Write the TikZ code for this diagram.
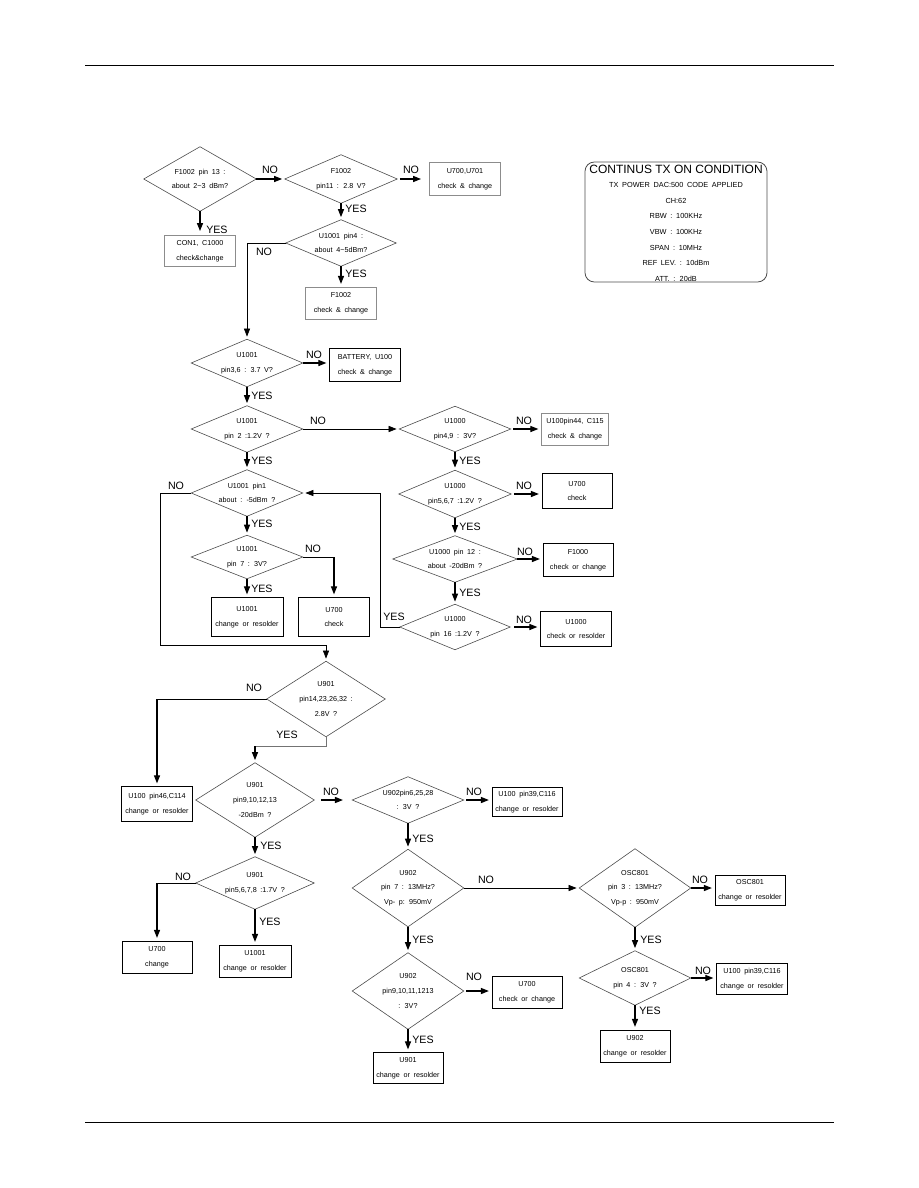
\documentclass[tikz,border=0pt]{standalone}
\usepackage{fontspec}
\setmainfont{Liberation Sans}
\newfontfamily\wsfont[WordSpace=1.8]{Liberation Sans}
\usetikzlibrary{arrows.meta}
\begin{document}
\begin{tikzpicture}[x=0.75pt,y=-0.75pt,
  dt/.style 2 args={inner sep=0pt, minimum width=#1*0.75pt, minimum height=#2*0.75pt, align=center, font=\wsfont\fontsize{5.4}{10.9}\selectfont},
  dline/.style={draw=black!70, line width=0.45pt},
  bx/.style 2 args={draw=black, line width=0.75pt, inner sep=0pt, minimum width=#1*0.75pt, minimum height=#2*0.75pt, align=center, font=\wsfont\fontsize{5.4}{11.2}\selectfont},
  gbx/.style 2 args={bx={#1}{#2}, draw=black!45},
  lbl/.style={inner sep=0pt, font=\fontsize{8}{8}\selectfont},
  arr/.style={line width=0.8pt, -{Triangle[length=6pt,width=4.6pt]}, shorten >=2pt},
  rt/.style={line width=0.5pt},
]
\useasboundingbox (0,0) rectangle (918,1188);
\draw[line width=0.6pt] (85,65) -- (834,65);
\draw[line width=0.6pt] (85,1122) -- (834,1122);

% decisions
\node[dt={112}{64}] (d1) at (200,179) {F1002 pin 13 :\\about 2\textasciitilde3 dBm?};
\node[dt={112}{48}] (d2) at (341,179) {F1002\\pin11 : 2.8 V?};
\node[dt={110}{46}] (d3) at (341,243) {U1001 pin4 :\\about 4\textasciitilde5dBm?};
\node[dt={111}{47}] (d4) at (247,363) {U1001\\pin3,6 : 3.7 V?};
\node[dt={111}{46}] (d5) at (247,429) {U1001\\pin 2 :1.2V ?};
\node[dt={111}{45}] (d6) at (455,429) {U1000\\pin4,9 : 3V?};
\node[dt={112}{47}] (d7) at (455,494) {U1000\\pin5,6,7 :1.2V ?};
\node[dt={124}{46}] (d8) at (455,559) {U1000 pin 12 :\\about -20dBm ?};
\node[dt={110}{45}] (d9) at (455,627) {U1000\\pin 16 :1.2V ?};
\node[dt={111}{46}] (d10) at (247,493) {U1001 pin1\\about : -5dBm ?};
\node[dt={111}{43}] (d10b) at (247,557) {U1001\\pin 7 : 3V?};
\node[dt={118}{75}] (d11) at (326,699) {U901\\pin14,23,26,32 :\\2.8V ?};
\node[dt={118}{74}] (d12) at (255,800) {U901\\pin9,10,12,13\\-20dBm ?};
\node[dt={111}{46}] (d13) at (408,800) {U902pin6,25,28\\: 3V ?};
\node[dt={111}{77}] (d14) at (408,888) {U902\\pin 7 : 13MHz?\\Vp- p: 950mV};
\node[dt={111}{78}] (d15) at (635,888) {OSC801\\pin 3 : 13MHz?\\Vp-p : 950mV};
\node[dt={111}{54}] (d16) at (635,978) {OSC801\\pin 4 : 3V ?};
\node[dt={111}{76}] (d17) at (408,991) {U902\\pin9,10,11,1213\\: 3V?};
\node[dt={118}{52}] (d18) at (255,883) {U901\\pin5,6,7,8 :1.7V ?};
\foreach \n in {d1,d2,d3,d4,d5,d6,d7,d8,d9,d10,d10b,d11,d12,d13,d14,d15,d16,d17,d18}
  \draw[dline] (\n.north) -- (\n.east) -- (\n.south) -- (\n.west) -- cycle;

% boxes
\node[gbx={71}{31}] (b1) at (200,251) {CON1, C1000\\check\&change};
\node[gbx={71}{33}] (b2) at (465,179) {U700,U701\\check \& change};
\node[gbx={71}{32}] (b3) at (341,303) {F1002\\check \& change};
\node[bx={71}{33}] (b4) at (365,365) {BATTERY, U100\\check \& change};
\node[gbx={67}{32}] (b6) at (575,429) {U100pin44, C115\\check \& change};
\node[bx={70}{35}] (b7) at (577,491) {U700\\check};
\node[bx={70}{33}] (b8) at (578,560) {F1000\\check or change};
\node[bx={71}{35}] (b9) at (576,629) {U1000\\check or resolder};
\node[bx={72}{39}] (b10a) at (247,617) {U1001\\change or resolder};
\node[bx={71}{39}] (b10b) at (334,617) {U700\\check};
\node[bx={71}{35}] (b11) at (157,804) {U100 pin46,C114\\change or resolder};
\node[bx={70}{29}] (b13) at (527,802) {U100 pin39,C116\\change or resolder};
\node[bx={70}{30}] (b15) at (750,890) {OSC801\\change or resolder};
\node[bx={71}{31}] (b16) at (752,979) {U100 pin39,C116\\change or resolder};
\node[bx={70}{32}] (b16y) at (635,1046) {U902\\change or resolder};
\node[bx={70}{32}] (b17) at (527,992) {U700\\check or change};
\node[bx={70}{31}] (b17y) at (408,1068) {U901\\change or resolder};
\node[bx={70}{32}] (b18a) at (157,957) {U700\\change};
\node[bx={72}{32}] (b18b) at (255,961) {U1001\\change or resolder};

% condition box
\node[draw=black!70, line width=0.6pt, rounded corners=7pt, minimum width=182*0.75pt, minimum height=120*0.75pt, inner sep=0pt] (cont) at (676,222) {};
\node[inner sep=0pt, font=\fontsize{9}{9}\selectfont] (conttitle) at (676,169) {CONTINUS TX ON CONDITION};
\node[inner sep=0pt, align=center, font=\wsfont\fontsize{5.5}{11.75}\selectfont] (contbody) at (676,232) {TX POWER DAC:500 CODE APPLIED\\CH:62\\RBW : 100KHz\\VBW : 100KHz\\SPAN : 10MHz\\REF LEV. : 10dBm\\ATT. : 20dB};

% connectors
\draw[arr] (d1.east) -- (d2.west);
\draw[arr, shorten <=2pt, shorten >=6pt] (d2.east) -- (d2.east -| b2.west);
\draw[arr] (d2.south) -- (d3.north);
\draw[arr, shorten >=3pt] (d1.south) -- (b1.north);
\draw[arr, line width=0.5pt] (d3.west) -| (d4.north);
\draw[arr] (d3.south) -- (b3.north);
\draw[arr] (d4.east) -- (d4.east -| b4.west);
\draw[arr] (d4.south) -- (d5.north);
\draw[arr, line width=0.6pt] (d5.east) -- (d6.west);
\draw[arr, shorten <=2pt] (d6.east) -- (d6.east -| b6.west);
\draw[arr] (d6.south) -- (d7.north);
\draw[arr, shorten <=2pt] (d7.east) -- (d7.east -| b7.west);
\draw[arr] (d7.south) -- (d8.north);
\draw[arr] (d8.east) -- (d8.east -| b8.west);
\draw[arr] (d8.south) -- (d9.north);
\draw[arr, shorten <=3pt] (d9.east) -- (d9.east -| b9.west);
\coordinate (c9) at (380,627);
\draw[arr, line width=0.5pt] (d9.west) -- (c9) |- (d10.east);
\draw[arr] (d5.south) -- (d10.north);
\coordinate (c10) at (160,645);
\draw[arr, line width=0.5pt] (d10.west) -| (c10) -| (d11.north);
\draw[arr] (d10.south) -- (d10b.north);
\draw[rt] (d10b.east) -- (d10b.east -| b10b.north);
\draw[arr] (d10b.east -| b10b.north) -- (b10b.north);
\draw[arr] (d10b.south) -- (b10a.north);
\draw[rt] (d11.west) -- (d11.west -| b11.north);
\draw[arr] (d11.west -| b11.north) -- (b11.north);
\coordinate (c11) at (326,746);
\draw[rt, black!55] (d11.south) -- (c11) -- (d12.north |- c11);
\draw[arr] (d12.north |- c11) -- (d12.north);
\draw[arr, shorten <=5pt, shorten >=7pt] (d12.east) -- (d13.west);
\draw[arr, shorten <=2pt] (d13.east) -- (d13.east -| b13.west);
\draw[arr] (d13.south) -- (d14.north);
\draw[arr, line width=0.6pt] (d14.east) -- (d15.west);
\draw[arr] (d15.east) -- (d15.east -| b15.west);
\draw[arr] (d15.south) -- (d16.north);
\draw[arr] (d16.east) -- (d16.east -| b16.west);
\draw[arr] (d16.south) -- (b16y.north);
\draw[arr] (d14.south) -- (d17.north);
\draw[arr, shorten <=2pt] (d17.east) -- (d17.east -| b17.west);
\draw[arr] (d17.south) -- (b17y.north);
\draw[arr] (d12.south) -- (d18.north);
\draw[rt] (d18.west) -- (d18.west -| b18a.north);
\draw[arr] (d18.west -| b18a.north) -- (b18a.north);
\draw[arr] (d18.south) -- (b18b.north);

% labels
\node[lbl] (n1) at (270,170) {NO};
\node[lbl] (n2) at (411,170) {NO};
\node[lbl] (n3) at (264,252) {NO};
\node[lbl] (n4) at (314,355) {NO};
\node[lbl] (n5) at (318,421) {NO};
\node[lbl] (n6) at (524,421) {NO};
\node[lbl] (n7) at (524,486) {NO};
\node[lbl] (n8) at (525,552) {NO};
\node[lbl] (n9) at (524,620) {NO};
\node[lbl] (n10) at (176,486) {NO};
\node[lbl] (n10b) at (313,549) {NO};
\node[lbl] (n11) at (254,688) {NO};
\node[lbl] (n12) at (331,792) {NO};
\node[lbl] (n13) at (474,792) {NO};
\node[lbl] (n14) at (486,880) {NO};
\node[lbl] (n15) at (700,880) {NO};
\node[lbl] (n16) at (703,971) {NO};
\node[lbl] (n17) at (474,977) {NO};
\node[lbl] (n18) at (183,877) {NO};

\node[lbl, anchor=west] (y1) at (206,230) {YES};
\node[lbl, anchor=west] (y2) at (345,209) {YES};
\node[lbl, anchor=west] (y3) at (345,274) {YES};
\node[lbl, anchor=west] (y4) at (251,396) {YES};
\node[lbl, anchor=west] (y5) at (251,461) {YES};
\node[lbl, anchor=west] (y6) at (459,461) {YES};
\node[lbl, anchor=west] (y7) at (459,527) {YES};
\node[lbl, anchor=west] (y8) at (459,593) {YES};
\node[lbl] (y9) at (394,617) {YES};
\node[lbl, anchor=west] (y10) at (251,524) {YES};
\node[lbl, anchor=west] (y10b) at (251,589) {YES};
\node[lbl] (y11) at (287,735) {YES};
\node[lbl, anchor=west] (y12) at (260,846) {YES};
\node[lbl, anchor=west] (y13) at (412,839) {YES};
\node[lbl, anchor=west] (y14) at (412,940) {YES};
\node[lbl, anchor=west] (y15) at (640,940) {YES};
\node[lbl, anchor=west] (y16) at (639,1011) {YES};
\node[lbl, anchor=west] (y17) at (412,1040) {YES};
\node[lbl, anchor=west] (y18) at (259,922) {YES};
\end{tikzpicture}
\end{document}
